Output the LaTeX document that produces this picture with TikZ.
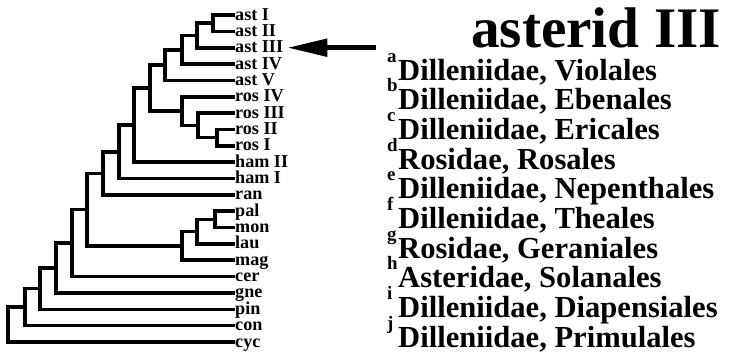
\documentclass[tikz,border=0pt]{standalone}
\usepackage{fontspec}
\setmainfont{Liberation Serif}
\usetikzlibrary{calc,arrows.meta}

\tikzset{
  branch/.style={line width=3.6bp, line cap=rect, line join=miter},
  taxon/.style={anchor=base west, inner sep=0pt, font=\fontsize{18.2}{18.2}\selectfont\bfseries},
  order/.style={anchor=base west, inner sep=0pt, font=\fontsize{30.7}{30.7}\selectfont\bfseries},
  footmark/.style={anchor=base west, inner sep=0pt, font=\fontsize{19}{19}\selectfont\bfseries},
  pointer/.style={line width=5bp, -{Triangle[length=40bp,width=17bp]}}
}

% clade{name}{x}{upper child}{lower child}
\newcommand\clade[4]{%
  \path let \p1=(#3), \p2=(#4) in coordinate (#1) at (#2bp,{0.5*(\y1+\y2)});
  \draw[branch] (#3) -| (#1) |- (#4);
}

\begin{document}
\begin{tikzpicture}[x=1bp,y=-1bp]
\useasboundingbox (0,0) rectangle (735,360);

% Leaves, one row each
\foreach \name/\txt [count=\i from 0] in {astI/ast I, astII/ast II, astIII/ast III, astIV/ast IV, astV/ast V,
    rosIV/ros IV, rosIII/ros III, rosII/ros II, rosI/ros I, hamII/ham II, hamI/ham I, ran/ran,
    pal/pal, mon/mon, lau/lau, mag/mag, cer/cer, gne/gne, pin/pin, con/con, cyc/cyc} {
    \coordinate (\name) at (233,15+16.35*\i);
    \node[taxon] (\name-lbl) at ($(\name)+(2,5)$) {\txt};
}

% Clades, innermost first
\clade{a1}{213}{astI}{astII}
\clade{a2}{197}{a1}{astIII}
\clade{a3}{182}{a2}{astIV}
\clade{a4}{165}{a3}{astV}
\clade{r1}{217}{rosII}{rosI}
\clade{r2}{198}{rosIII}{r1}
\clade{r3}{182}{rosIV}{r2}
\clade{b1}{150}{a4}{r3}
\clade{b2}{134}{b1}{hamII}
\clade{b3}{119}{b2}{hamI}
\clade{b4}{103}{b3}{ran}
\clade{m1}{215}{pal}{mon}
\clade{m2}{197}{m1}{lau}
\clade{m3}{182}{m2}{mag}
\clade{s1}{87}{b4}{m3}
\clade{s2}{72}{s1}{cer}
\clade{s3}{56}{s2}{gne}
\clade{s4}{40}{s3}{pin}
\clade{s5}{25}{s4}{con}
\clade{s6}{8}{s5}{cyc}

% Arrow to ast III
\coordinate (tail) at ($(astIII)+(143,0)$);
\draw[pointer] (tail) -- ($(astIII-lbl.east |- astIII)+(4,0)$);

% Title and key
\node[anchor=base, inner sep=0pt, font=\fontsize{57.5}{57.5}\selectfont\bfseries] (title) at (596,47) {asterid III};

\foreach \m/\txt [count=\i from 0] in {a/{Dilleniidae, Violales}, b/{Dilleniidae, Ebenales},
    c/{Dilleniidae, Ericales}, d/{Rosidae, Rosales}, e/{Dilleniidae, Nepenthales},
    f/{Dilleniidae, Theales}, g/{Rosidae, Geraniales}, h/{Asteridae, Solanales},
    i/{Dilleniidae, Diapensiales}, j/{Dilleniidae, Primulales}} {
    \node[order] (ord-\m) at (398,80+29.7*\i) {\txt};
    \node[footmark] (key-\m) at ($(ord-\m.base west)+(-11,-18)$) {\m};
}

\end{tikzpicture}
\end{document}
